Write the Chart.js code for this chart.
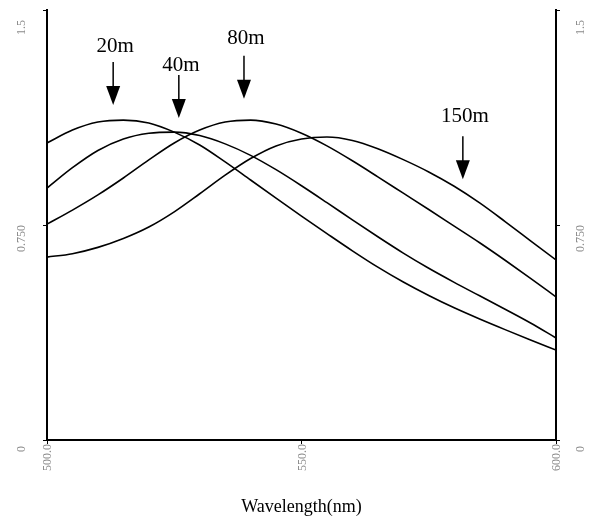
<!DOCTYPE html>
<html>
<head>
<meta charset="utf-8">
<script src="https://cdn.jsdelivr.net/npm/chart.js@4/dist/chart.umd.min.js"></script>
<style>
  html,body{margin:0;padding:0;background:#fff}
  #wrap{width:591px;height:522px}
</style>
</head>
<body>
<div id="wrap"><canvas id="c" width="591" height="522"></canvas></div>
<script>
// wavelength samples (nm)
const wavelength=[500,505,510,515,520,525,530,535,540,545,550,555,560,565,570,575,580,585,590,595,600];
// spectra
const s20m =[1.036,1.081,1.109,1.116,1.106,1.074,1.029,0.970,0.907,0.844,0.781,0.720,0.660,0.603,0.551,0.504,0.461,0.422,0.385,0.349,0.314];
const s40m =[0.879,0.950,1.010,1.050,1.070,1.074,1.062,1.033,0.993,0.943,0.887,0.828,0.768,0.709,0.652,0.599,0.550,0.503,0.456,0.408,0.356];
const s80m =[0.753,0.802,0.855,0.914,0.977,1.036,1.081,1.109,1.116,1.102,1.070,1.026,0.974,0.918,0.861,0.804,0.746,0.688,0.627,0.564,0.499];
const s150m=[0.638,0.650,0.672,0.703,0.743,0.796,0.859,0.924,0.982,1.026,1.050,1.057,1.045,1.016,0.978,0.935,0.885,0.827,0.762,0.695,0.628];
// tick labels
const yTicks=[0,0.75,1.5];
const yTickLabels=['0','0.750','1.5'];
const xTicks=[500,550,600];
const xTickLabels=['500.0','550.0','600.0'];
// arrow callouts: label, x (nm), arrow tip value, label value
const calloutText=['20m','40m','80m','150m'];
const calloutX=[513.0,525.9,538.7,581.7];
const calloutTip=[1.169,1.123,1.190,0.910];
const calloutLabelY=[1.371,1.308,1.402,1.127];

const series=[s20m,s40m,s80m,s150m];
const toPts=arr=>arr.map((v,i)=>({x:wavelength[i],y:v}));

const tickLabelPlugin={
  id:'tickLabels',
  afterDraw(chart){
    const ctx=chart.ctx, y=chart.scales.y, x=chart.scales.x, area=chart.chartArea;
    ctx.save();
    ctx.fillStyle='#8a8a8a';
    ctx.font='12px "Liberation Serif", serif';
    ctx.textBaseline='middle';
    const drawRot=(txt,px,py,align)=>{
      ctx.save(); ctx.translate(px,py); ctx.rotate(-Math.PI/2);
      ctx.textAlign=align; ctx.fillText(txt,0,0); ctx.restore();
    };
    yTicks.forEach((v,i)=>{
      let py=y.getPixelForValue(v), align='right';
      if(py<area.top+10) py=area.top+10;
      if(py>area.bottom-2){ py=py+9; align='center'; }
      drawRot(yTickLabels[i],22,py,align);
      drawRot(yTickLabels[i],581,py,align);
    });
    xTicks.forEach((v,i)=>{
      drawRot(xTickLabels[i],x.getPixelForValue(v)+1,area.bottom+4,'right');
    });
    ctx.restore();
  }
};

const calloutPlugin={
  id:'callouts',
  afterDraw(chart){
    const ctx=chart.ctx, x=chart.scales.x, y=chart.scales.y;
    ctx.save();
    ctx.fillStyle='#000'; ctx.strokeStyle='#000'; ctx.lineWidth=1.5;
    ctx.font='21px "Liberation Serif", serif';
    ctx.textAlign='center'; ctx.textBaseline='middle';
    calloutText.forEach((t,i)=>{
      const px=x.getPixelForValue(calloutX[i]);
      const tip=y.getPixelForValue(calloutTip[i]);
      const ly=y.getPixelForValue(calloutLabelY[i]);
      ctx.fillText(t,px+2,ly);
      ctx.beginPath(); ctx.moveTo(px,tip-43); ctx.lineTo(px,tip-16); ctx.stroke();
      ctx.beginPath(); ctx.moveTo(px-7,tip-19); ctx.lineTo(px+7,tip-19); ctx.lineTo(px,tip); ctx.closePath(); ctx.fill();
    });
    ctx.restore();
  }
};

const axisBase={
  grid:{display:true,drawOnChartArea:false,drawTicks:true,tickLength:4,color:'#000',lineWidth:1},
  border:{display:true,color:'#000',width:2},
  ticks:{display:false}
};

new Chart(document.getElementById('c'),{
  type:'line',
  data:{datasets:series.map((s,i)=>({
    label:calloutText[i],data:toPts(s),borderColor:'#000',borderWidth:1.6,
    pointRadius:0,cubicInterpolationMode:'monotone',fill:false
  }))},
  options:{
    responsive:false,animation:false,
    layout:{padding:{top:10,left:0,right:0,bottom:0}},
    plugins:{legend:{display:false},tooltip:{enabled:false}},
    scales:{
      x:{...axisBase,type:'linear',min:500,max:600,
        ticks:{display:false,stepSize:50},
        afterBuildTicks:s=>{s.ticks=xTicks.map(v=>({value:v}));},
        title:{display:true,text:'Wavelength(nm)',color:'#000',font:{family:'"Liberation Serif", serif',size:18},padding:{top:36}},
        afterFit:s=>{s.height=82;}},
      y:{...axisBase,position:'left',min:0,max:1.5,
        afterBuildTicks:s=>{s.ticks=yTicks.map(v=>({value:v}));},
        afterFit:s=>{s.width=47;}},
      y2:{...axisBase,position:'right',min:0,max:1.5,
        afterBuildTicks:s=>{s.ticks=yTicks.map(v=>({value:v}));},
        afterFit:s=>{s.width=35;}}
    }
  },
  plugins:[tickLabelPlugin,calloutPlugin]
});
</script>
</body>
</html>
